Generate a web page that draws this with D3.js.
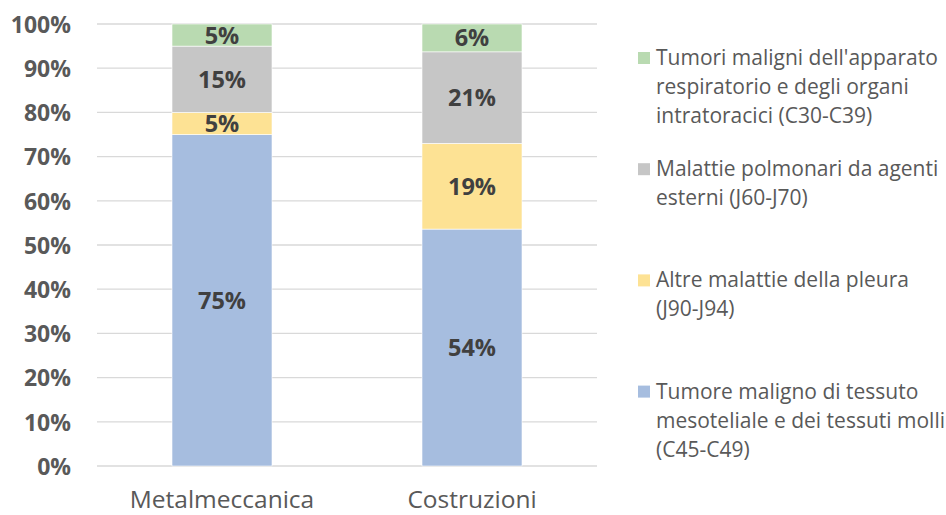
<!DOCTYPE html>
<html>
<head>
<meta charset="utf-8">
<script src="https://cdn.jsdelivr.net/npm/d3@7"></script>
<style>
  body { margin: 0; background: #fff; }
  svg { display: block; font-family: 'Open Sans', sans-serif; }
</style>
</head>
<body>
<svg id="chart" width="946" height="515"></svg>
<script>
// dati
var categories = ['Metalmeccanica', 'Costruzioni'];
var seriesNames = [
    'Tumore maligno di tessuto mesoteliale e dei tessuti molli (C45-C49)',
    'Altre malattie della pleura (J90-J94)',
    'Malattie polmonari da agenti esterni (J60-J70)',
    "Tumori maligni dell'apparato respiratorio e degli organi intratoracici (C30-C39)"
];
// righe della legenda (a capo come nell'originale)
var legendLines = [
    ['Tumore maligno di tessuto', 'mesoteliale e dei tessuti molli', '(C45-C49)'],
    ['Altre malattie della pleura', '(J90-J94)'],
    ['Malattie polmonari da agenti', 'esterni (J60-J70)'],
    ["Tumori maligni dell'apparato", 'respiratorio e degli organi', 'intratoracici (C30-C39)']
];
var tumoreMesotelio = [75, 53.6];
var altrePleura = [5, 19.4];
var agentiEsterni = [15, 20.7];
var tumoriRespiratorio = [5, 6.3];
var yTicks = [0, 10, 20, 30, 40, 50, 60, 70, 80, 90, 100];

var colors = ['#A6BDDF', '#FDE294', '#C6C6C6', '#B9DAB1'];

var svg = d3.select('#chart');
var margin = { top: 24, left: 97, right: 349, bottom: 49 };
var width = 946 - margin.left - margin.right;
var height = 515 - margin.top - margin.bottom;

var g = svg.append('g').attr('transform', 'translate(' + margin.left + ',' + margin.top + ')');

var x = d3.scaleBand()
    .domain(categories)
    .range([0, width])
    .paddingInner(0.6)
    .paddingOuter(0.3);

var y = d3.scaleLinear()
    .domain([0, 100])
    .range([height, 0]);

// griglia
g.selectAll('.grid')
    .data(yTicks)
    .enter().append('line')
    .attr('x1', 0)
    .attr('x2', width)
    .attr('y1', d => y(d))
    .attr('y2', d => y(d))
    .style('stroke', '#D9D9D9')
    .style('stroke-width', 1.3);

// asse y
var yAxis = d3.axisLeft(y).tickValues(yTicks).tickFormat(d => d + '%').tickSize(0).tickPadding(26);
var yG = g.append('g').call(yAxis);
yG.select('.domain').remove();
yG.selectAll('text')
    .style('font-family', "'Open Sans', sans-serif")
    .style('font-size', '23px')
    .style('font-weight', 'bold')
    .style('fill', '#595959')
    .attr('dy', '0.36em');

// asse x
var xAxis = d3.axisBottom(x).tickSize(0).tickPadding(0);
var xG = g.append('g').attr('transform', 'translate(0,' + height + ')').call(xAxis);
xG.select('.domain').remove();
xG.selectAll('text')
    .style('font-family', "'Open Sans', sans-serif")
    .style('font-size', '24.5px')
    .style('fill', '#595959')
    .attr('y', 42)
    .attr('dy', 0);

// stack
var table = categories.map(function (c, i) {
    return {
        cat: c,
        s0: tumoreMesotelio[i],
        s1: altrePleura[i],
        s2: agentiEsterni[i],
        s3: tumoriRespiratorio[i]
    };
});
var stacked = d3.stack().keys(['s0', 's1', 's2', 's3'])(table);

var layers = g.selectAll('.layer')
    .data(stacked)
    .enter().append('g')
    .style('fill', (d, i) => colors[i]);

layers.selectAll('rect')
    .data(d => d)
    .enter().append('rect')
    .attr('x', d => x(d.data.cat))
    .attr('width', x.bandwidth())
    .attr('y', d => y(d[1]))
    .attr('height', d => y(d[0]) - y(d[1]))
    .style('stroke', '#fff')
    .style('stroke-width', 0.6);

layers.selectAll('text')
    .data(d => d)
    .enter().append('text')
    .attr('x', d => x(d.data.cat) + x.bandwidth() / 2)
    .attr('y', d => (y(d[0]) + y(d[1])) / 2)
    .attr('dy', '0.36em')
    .attr('text-anchor', 'middle')
    .style('font-size', '23.5px')
    .style('font-weight', 'bold')
    .style('fill', '#404040')
    .text(d => Math.round(d[1] - d[0]) + '%');

// legenda (ordine inverso)
var legendOrder = [3, 2, 1, 0];
var legend = svg.append('g').attr('transform', 'translate(638,65)');
var entry = legend.selectAll('.entry')
    .data(legendOrder)
    .enter().append('g')
    .attr('transform', (d, i) => 'translate(0,' + (i * 111.2) + ')');

entry.append('rect')
    .attr('x', 0)
    .attr('y', -13)
    .attr('width', 12)
    .attr('height', 12)
    .style('fill', d => colors[d]);

entry.append('text')
    .style('font-size', '21px')
    .style('fill', '#595959')
    .selectAll('tspan')
    .data(d => legendLines[d])
    .enter().append('tspan')
    .attr('x', 18)
    .attr('y', (d, i) => i * 29)
    .text(d => d);
</script>
</body>
</html>
